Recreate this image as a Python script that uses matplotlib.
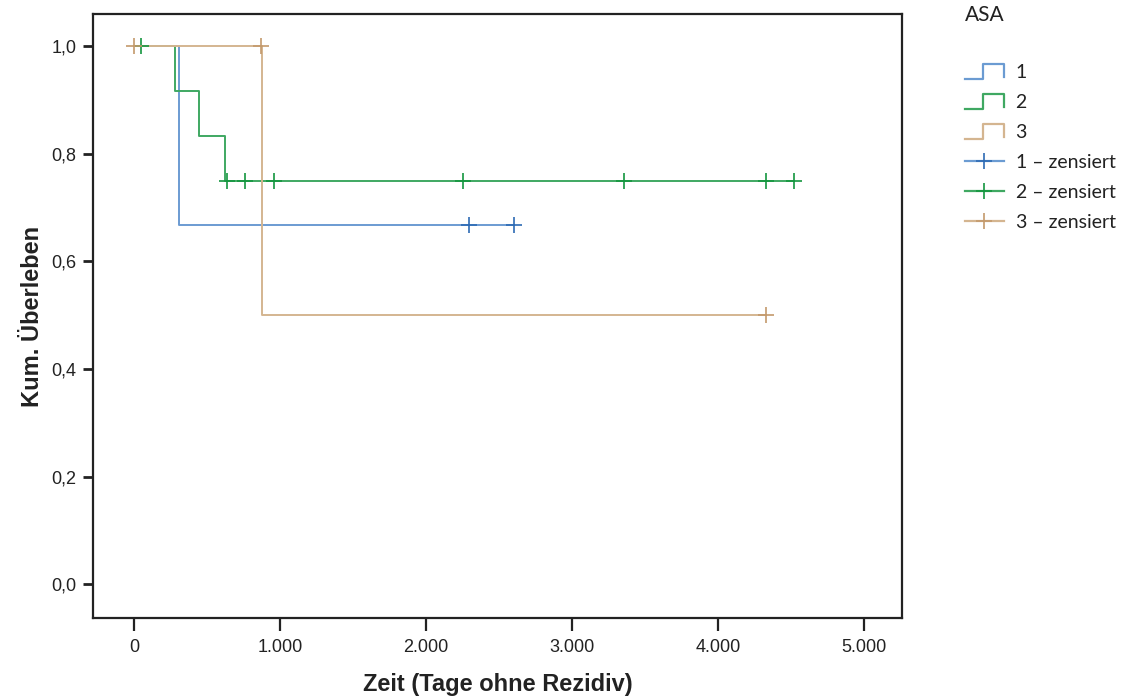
import numpy as np
import matplotlib
matplotlib.use("Agg")
import matplotlib.pyplot as plt
from matplotlib.lines import Line2D
from matplotlib.legend_handler import HandlerBase
from matplotlib.ticker import FuncFormatter

# Kaplan-Meier Daten
groups = ["1", "2", "3"]
event_times = [[308], [281, 445, 623], [876]]
event_surv = [[0.667], [0.917, 0.833, 0.75], [0.5]]
cens_times = [[2295, 2603],
              [46, 635, 762, 961, 2253, 3356, 4327, 4521],
              [0, 872, 4326]]

line_colors = ["#6b9bd2", "#3fa862", "#d4b590"]
cens_colors = ["#2e6bb4", "#14963f", "#c49a6c"]

x_ticks = [0, 1000, 2000, 3000, 4000, 5000]
y_ticks = [0.0, 0.2, 0.4, 0.6, 0.8, 1.0]

narrow = ["Liberation Sans", "DejaVu Sans"]
plt.rcParams["font.family"] = ["Lato", "DejaVu Sans"]


def surv_at(t, ev_t, ev_s):
    idx = np.searchsorted(ev_t, t, side="right")
    return 1.0 if idx == 0 else ev_s[idx - 1]


class StepHandler(HandlerBase):
    def create_artists(self, legend, orig_handle, xdescent, ydescent,
                       width, height, fontsize, trans):
        x0, y0 = -xdescent, -ydescent
        xm = x0 + width * 0.45
        xs = [x0, xm, xm, x0 + width, x0 + width]
        ys = [y0, y0, y0 + height, y0 + height, y0 + height * 0.1]
        ln = Line2D(xs, ys, color=orig_handle.get_color(), lw=1.6,
                    transform=trans)
        return [ln]


fig = plt.figure(figsize=(11.34, 7.0), dpi=100)
ax = fig.add_axes([0.082, 0.117, 0.7135, 0.863])

for i in range(3):
    ev_t = event_times[i]
    ev_s = event_surv[i]
    ct = cens_times[i]
    end = max(ct + ev_t)
    xs = [0] + ev_t + [end]
    ys = [1.0] + ev_s + [ev_s[-1]]
    ax.step(xs, ys, where="post", color=line_colors[i], lw=1.4, zorder=2)
    cy = [surv_at(t, ev_t, ev_s) for t in ct]
    ax.plot(ct, cy, ls="none", marker="+", ms=11, mew=1.2,
            color=cens_colors[i], zorder=3)

ax.set_xlim(-281, 5260)
ax.set_ylim(-0.063, 1.0595)
ax.set_xticks(x_ticks)
ax.set_yticks(y_ticks)
ax.xaxis.set_major_formatter(FuncFormatter(lambda v, p: f"{int(v):,}".replace(",", ".")))
ax.yaxis.set_major_formatter(FuncFormatter(lambda v, p: f"{v:.1f}".replace(".", ",")))

for sp in ax.spines.values():
    sp.set_linewidth(1.6)
    sp.set_color("#222222")
ax.tick_params(axis="y", direction="out", length=7, width=2, pad=5,
               labelsize=13, color="#222222")
ax.tick_params(axis="x", direction="out", length=9, width=1.6, pad=6,
               labelsize=13, color="#222222")
for lab in ax.get_xticklabels() + ax.get_yticklabels():
    lab.set_family(narrow)
    lab.set_color("#222222")

ax.set_xlabel("Zeit (Tage ohne Rezidiv)", fontsize=17, fontweight="bold",
              family=narrow, labelpad=12, color="#222222")
ax.set_ylabel("Kum. Überleben", fontsize=17, fontweight="bold",
              family=narrow, labelpad=5, color="#222222")

# Legende
fig.text(0.851, 0.993, "ASA", fontsize=15, va="top", ha="left",
         color="#222222")
step_handles = [Line2D([], [], color=c) for c in line_colors]
cens_handles = [Line2D([0, 1], [0, 0], color=line_colors[i], lw=1.6,
                       marker="+", ms=11, mew=1.2,
                       markeredgecolor=cens_colors[i])
                for i in range(3)]
labels = groups + [g + " – zensiert" for g in groups]
hmap = {h: StepHandler() for h in step_handles}
leg = fig.legend(step_handles + cens_handles, labels, handler_map=hmap,
                 loc="upper left", bbox_to_anchor=(0.839, 0.928),
                 frameon=False, fontsize=14, handlelength=2.0,
                 handleheight=0.8, labelspacing=0.66, handletextpad=0.6,
                 numpoints=1, borderaxespad=0.3)
for t in leg.get_texts():
    t.set_color("#222222")

fig.savefig("out.png", dpi=100)
